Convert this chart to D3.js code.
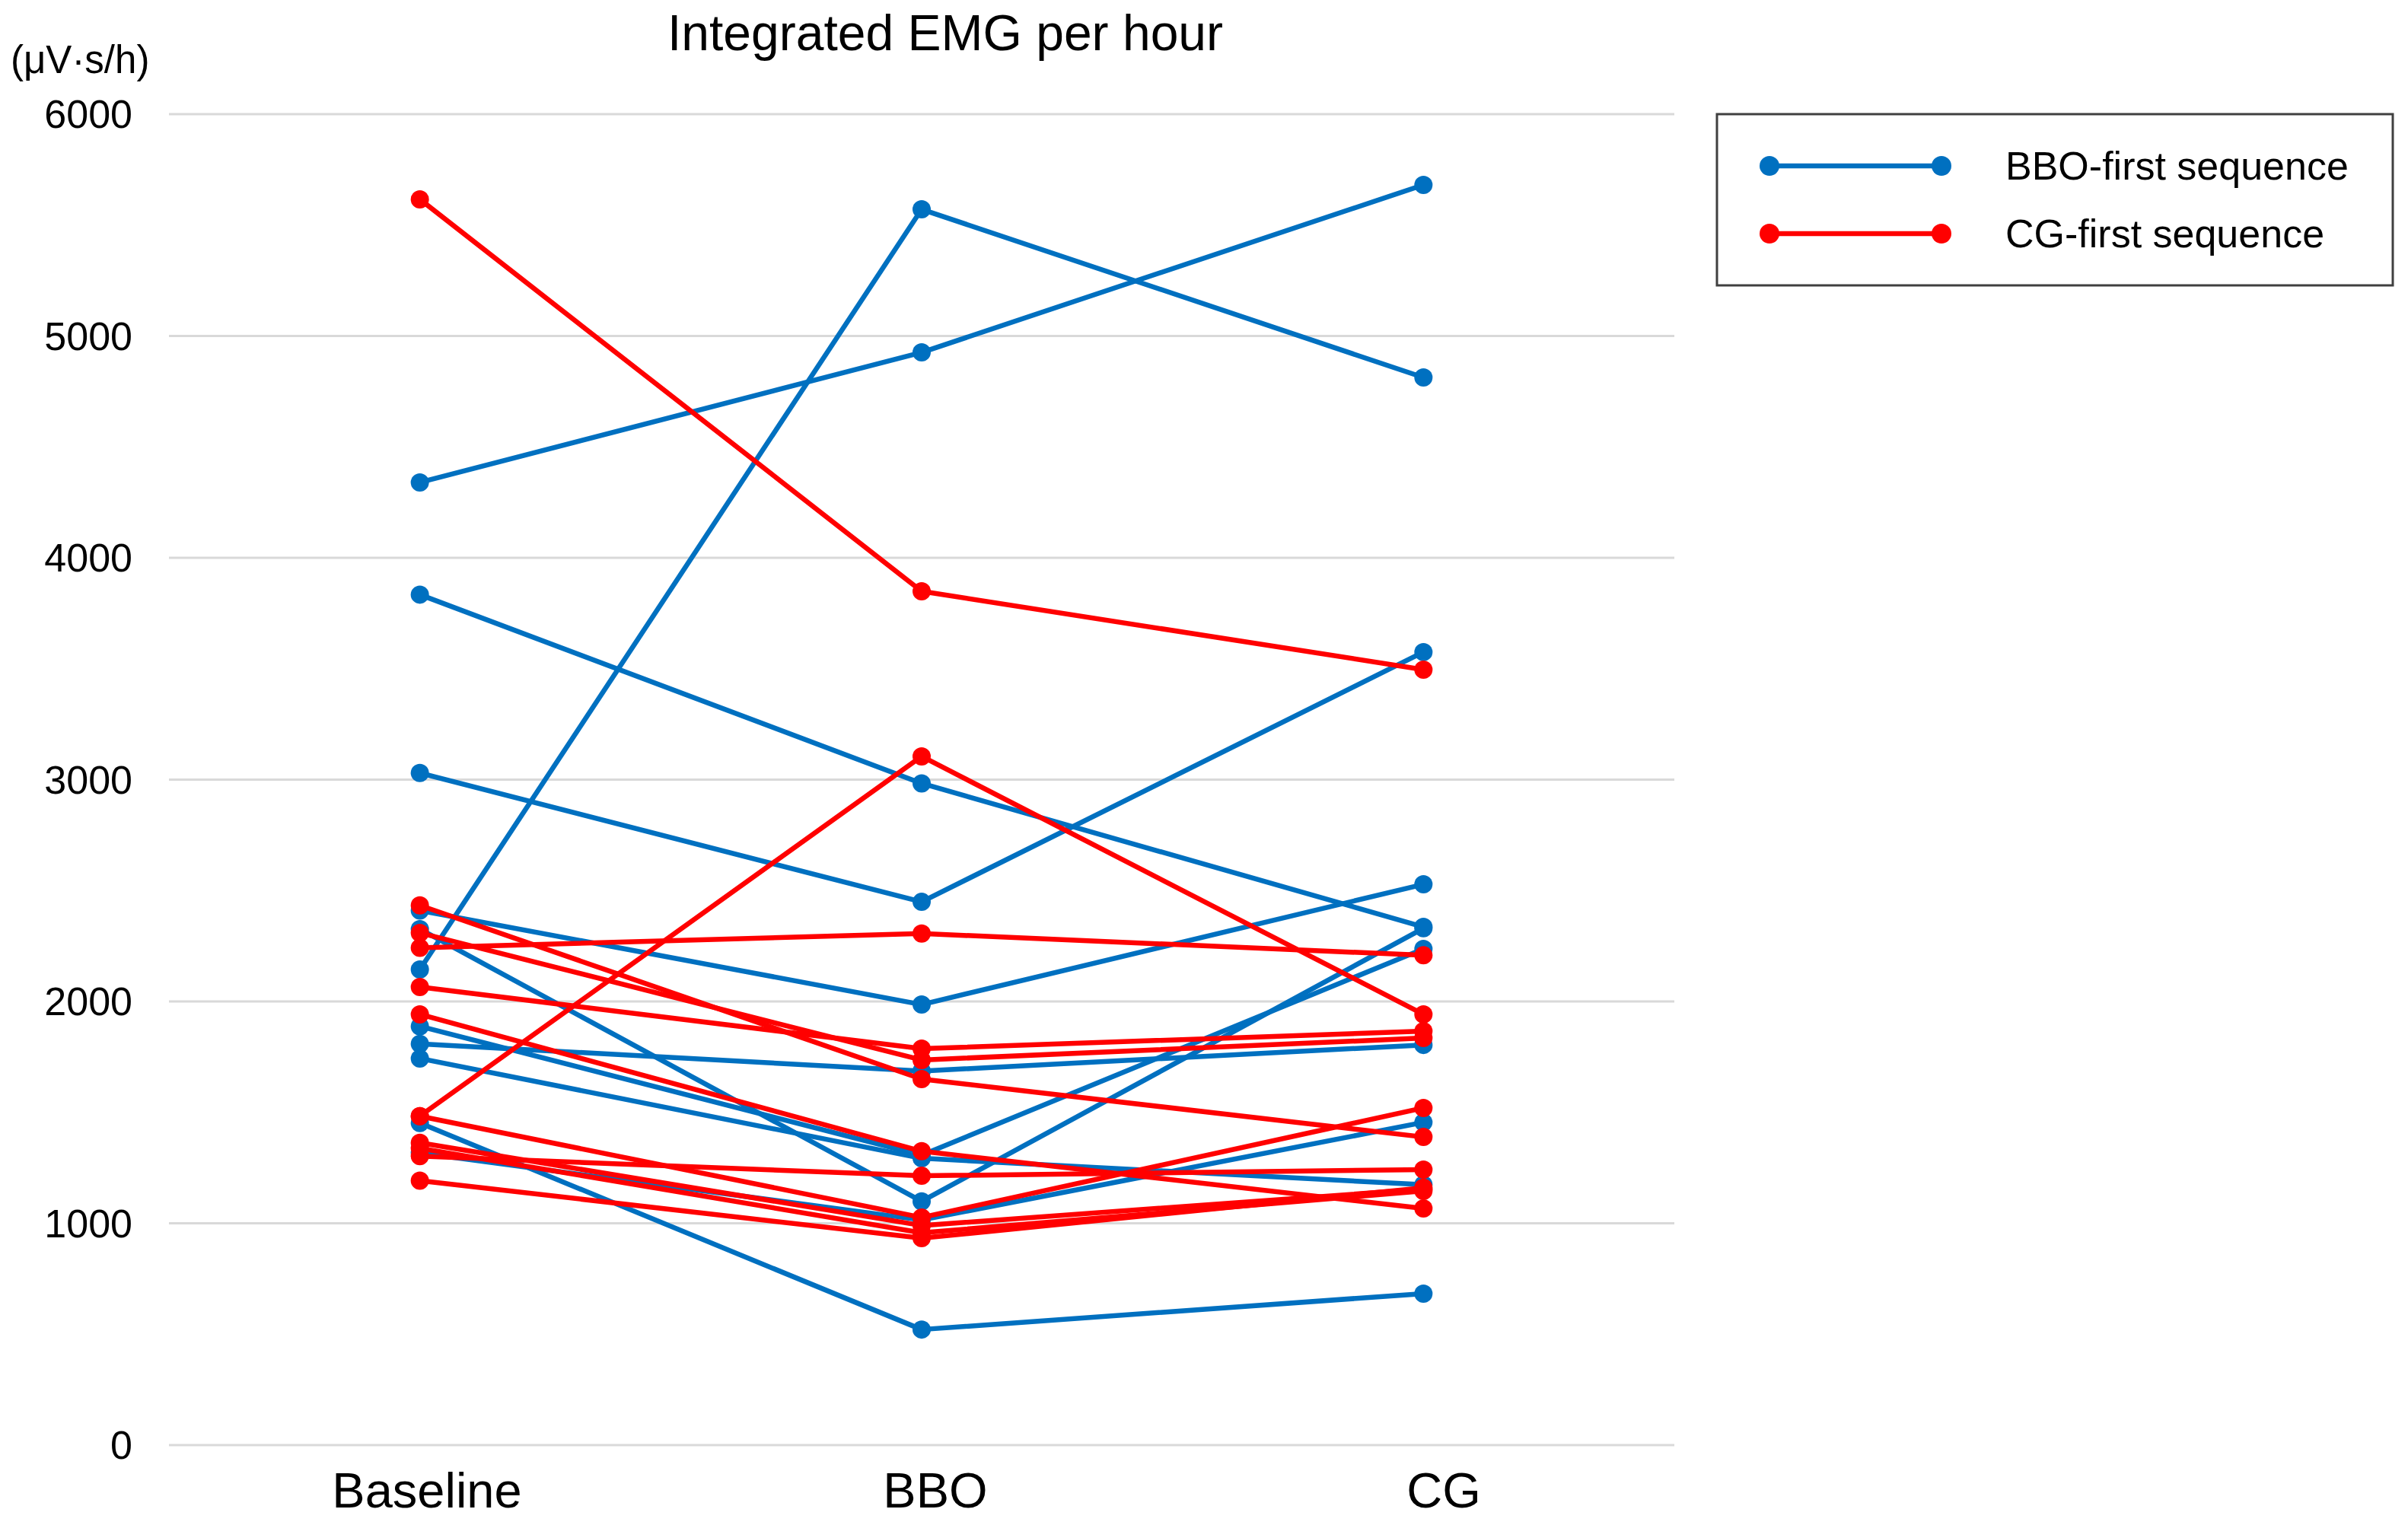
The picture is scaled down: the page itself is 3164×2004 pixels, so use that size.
<!DOCTYPE html>
<html>
<head>
<meta charset="utf-8">
<style>
  *{margin:0;padding:0;box-sizing:border-box}
  body{background:#fff;width:3164px;height:2004px;overflow:hidden}
  svg{display:block}
  text{font-family:"Liberation Sans",Arial,sans-serif;fill:#000}
</style>
</head>
<body>
<svg id="g"></svg>
<script src="https://cdn.jsdelivr.net/npm/d3@7/dist/d3.min.js"></script>
<script>
// categories on the x axis
const categories = ['Baseline', 'BBO', 'CG'];
const yTicks = [0, 1000, 2000, 3000, 4000, 5000, 6000];

// one row per subject: [Baseline, BBO, CG] in µV·s/h
const bboFirst = [
  [4340, 4926, 5681],
  [2144, 5571, 4813],
  [3834, 2983, 2336],
  [3030, 2449, 3575],
  [2410, 1986, 2528],
  [2326, 1099, 2330],
  [1888, 1307, 2237],
  [1809, 1686, 1804],
  [1743, 1293, 1174],
  [1452,  521,  683],
  [1317, 1015, 1455]
];
const cgFirst = [
  [5616, 3849, 3496],
  [1483, 3105, 1942],
  [2242, 2306, 2208],
  [2433, 1650, 1389],
  [2309, 1736, 1835],
  [2065, 1787, 1866],
  [1942, 1325, 1067],
  [1483, 1026, 1520],
  [1363,  990, 1154],
  [1303, 1214, 1242],
  [1338,  957, 1146],
  [1192,  933, 1160]
];

const seriesNames = ['BBO-first sequence', 'CG-first sequence'];
const BLUE = '#0070C0', RED = '#FF0000';

const W = 3164, H = 2004;
const svg = d3.select('#g').attr('width', W).attr('height', H);

const x = d3.scaleBand().domain(categories).range([222, 2200]);
const xLab = d3.scalePoint().domain(categories).range([561, 1897]);
const y = d3.scaleLinear().domain([0, 6000]).range([1899, 150]);

// gridlines
svg.append('g').selectAll('line').data(yTicks).enter().append('line')
  .attr('x1', 222).attr('x2', 2200)
  .attr('y1', d => y(d)).attr('y2', d => y(d))
  .attr('stroke', '#D9D9D9').attr('stroke-width', 3);

// y tick labels
svg.append('g').selectAll('text').data(yTicks).enter().append('text')
  .attr('x', 174).attr('y', d => y(d))
  .attr('text-anchor', 'end').attr('dominant-baseline', 'central')
  .attr('font-size', 52).text(d => d);

// x labels
svg.append('g').selectAll('text').data(categories).enter().append('text')
  .attr('x', d => xLab(d)).attr('y', 1958)
  .attr('text-anchor', 'middle').attr('dominant-baseline', 'central')
  .attr('font-size', 65).text(d => d);

// title and unit
svg.append('text').attr('x', 1242).attr('y', 66).attr('text-anchor', 'middle')
  .attr('font-size', 66).text('Integrated EMG per hour');
svg.append('text').attr('x', 14).attr('y', 78).attr('dominant-baseline', 'central')
  .attr('font-size', 51).text('(μV·s/h)');

const line = d3.line()
  .x((d, i) => x(categories[i]) + x.bandwidth() / 2)
  .y(d => y(d));

function drawGroup(rows, color) {
  const g = svg.append('g');
  rows.forEach(r => {
    g.append('path').datum(r).attr('d', line)
      .attr('fill', 'none').attr('stroke', color)
      .attr('stroke-width', 6.5).attr('stroke-linejoin', 'round');
    g.selectAll(null).data(r).enter().append('circle')
      .attr('cx', (d, i) => x(categories[i]) + x.bandwidth() / 2)
      .attr('cy', d => y(d)).attr('r', 12).attr('fill', color);
  });
}
drawGroup(bboFirst, BLUE);
drawGroup(cgFirst, RED);

// legend
const lg = svg.append('g');
lg.append('rect').attr('x', 2256).attr('y', 150).attr('width', 888).attr('height', 225)
  .attr('fill', '#fff').attr('stroke', '#404040').attr('stroke-width', 3);
const legendY = d3.scalePoint().domain(seriesNames).range([218, 307]);
const legendColor = d3.scaleOrdinal().domain(seriesNames).range([BLUE, RED]);
seriesNames.forEach(s => {
  const ly = legendY(s);
  lg.append('line').attr('x1', 2325).attr('x2', 2551).attr('y1', ly).attr('y2', ly)
    .attr('stroke', legendColor(s)).attr('stroke-width', 6.5);
  [2325, 2551].forEach(cx => lg.append('circle').attr('cx', cx).attr('cy', ly)
    .attr('r', 13).attr('fill', legendColor(s)));
  lg.append('text').attr('x', 2635).attr('y', ly).attr('dominant-baseline', 'central')
    .attr('font-size', 52).text(s);
});
</script>
</body>
</html>
